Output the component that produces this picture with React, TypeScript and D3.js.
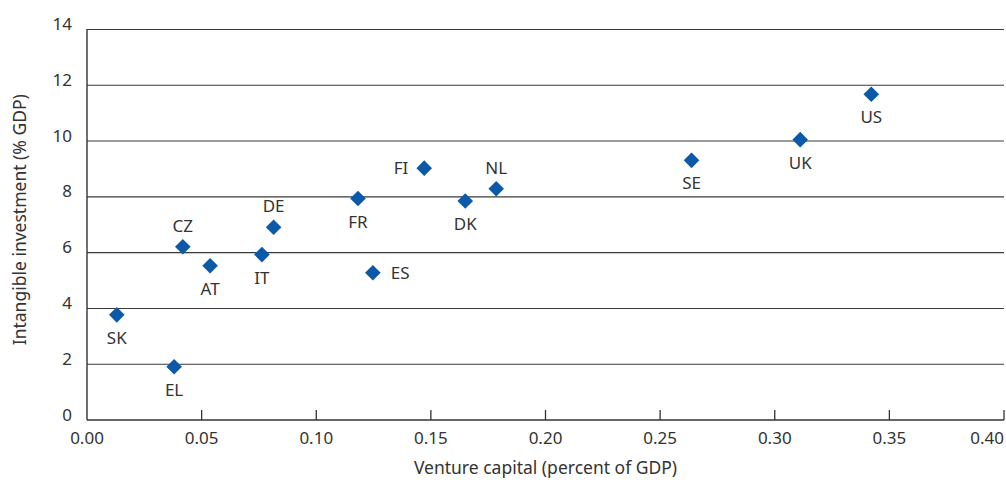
import React from "react";
import * as d3 from "d3";

const countries = ["SK", "EL", "CZ", "AT", "IT", "DE", "FR", "ES", "FI", "DK", "NL", "SE", "UK", "US"];
const ventureCapital = [0.013, 0.038, 0.0418, 0.0537, 0.0763, 0.0814, 0.1182, 0.1247, 0.1471, 0.165, 0.1785, 0.2637, 0.3111, 0.3421];
const intangibleInvestment = [3.77, 1.91, 6.21, 5.53, 5.93, 6.91, 7.94, 5.28, 9.03, 7.85, 8.29, 9.31, 10.05, 11.68];
const labelSide = ["below", "below", "above", "below", "below", "above", "below", "right", "left", "below", "above", "below", "below", "below"];
const xTicks = [0, 0.05, 0.1, 0.15, 0.2, 0.25, 0.3, 0.35, 0.4];
const yTicks = [0, 2, 4, 6, 8, 10, 12, 14];

const W = 1006;
const H = 486;
const FONT = "'Noto Sans', sans-serif";
const TEXT = "#333333";
const BLUE = "#0b5aaa";

export default function App() {
  const left = 87;
  const right = 1004;
  const top = 29.5;
  const bottom = 420;
  const x = d3.scaleLinear().domain([0, 0.4]).range([left, right]);
  const y = d3.scaleLinear().domain([0, 14]).range([bottom, top]);
  const diamond = d3.symbol().type(d3.symbolSquare).size(122)();

  return (
    <svg
      width={W}
      height={H}
      style={{ position: "absolute", left: 0, top: 0, background: "#fff" }}
      fontFamily={FONT}
    >
      {yTicks.map((t) => (
        <g key={"y" + t}>
          {t > 0 && (
            <line x1={left} x2={right} y1={y(t)} y2={y(t)} stroke="#3a3a3a" strokeWidth={1.1} />
          )}
          <text x={72} y={y(t) + 0.5} textAnchor="end" fontSize={17} fill={TEXT}>
            {t}
          </text>
        </g>
      ))}
      <line x1={left} x2={left} y1={top - 0.5} y2={bottom} stroke="#333" strokeWidth={1.4} />
      <line x1={left} x2={right} y1={bottom} y2={bottom} stroke="#333" strokeWidth={1.4} />
      {xTicks.map((t, i) => (
        <g key={"x" + t}>
          {t > 0 && <line x1={x(t)} x2={x(t)} y1={bottom} y2={bottom - 10} stroke="#333" strokeWidth={1.3} />}
          <text
            x={x(t)}
            y={443.5}
            textAnchor={i === xTicks.length - 1 ? "end" : "middle"}
            fontSize={17}
            fill={TEXT}
          >
            {t.toFixed(2)}
          </text>
        </g>
      ))}
      <text x={(left + right) / 2} y={473.5} textAnchor="middle" fontSize={17.5} fill={TEXT}>
        Venture capital (percent of GDP)
      </text>
      <text
        transform={`translate(25.5, ${(top + bottom) / 2 - 5}) rotate(-90)`}
        textAnchor="middle"
        fontSize={17.5}
        fill={TEXT}
      >
        Intangible investment (% GDP)
      </text>
      {countries.map((c, i) => {
        const cx = x(ventureCapital[i]);
        const cy = y(intangibleInvestment[i]);
        const side = labelSide[i];
        let lx = cx;
        let ly = cy;
        let anchor = "middle";
        if (side === "below") ly = cy + 29;
        else if (side === "above") ly = cy - 15;
        else if (side === "left") {
          lx = cx - 16;
          ly = cy + 6;
          anchor = "end";
        } else {
          lx = cx + 18;
          ly = cy + 6;
          anchor = "start";
        }
        return (
          <g key={c}>
            <path d={diamond} transform={`translate(${cx},${cy}) rotate(45)`} fill={BLUE} />
            <text x={lx} y={ly} textAnchor={anchor} fontSize={17} fill={TEXT}>
              {c}
            </text>
          </g>
        );
      })}
    </svg>
  );
}
